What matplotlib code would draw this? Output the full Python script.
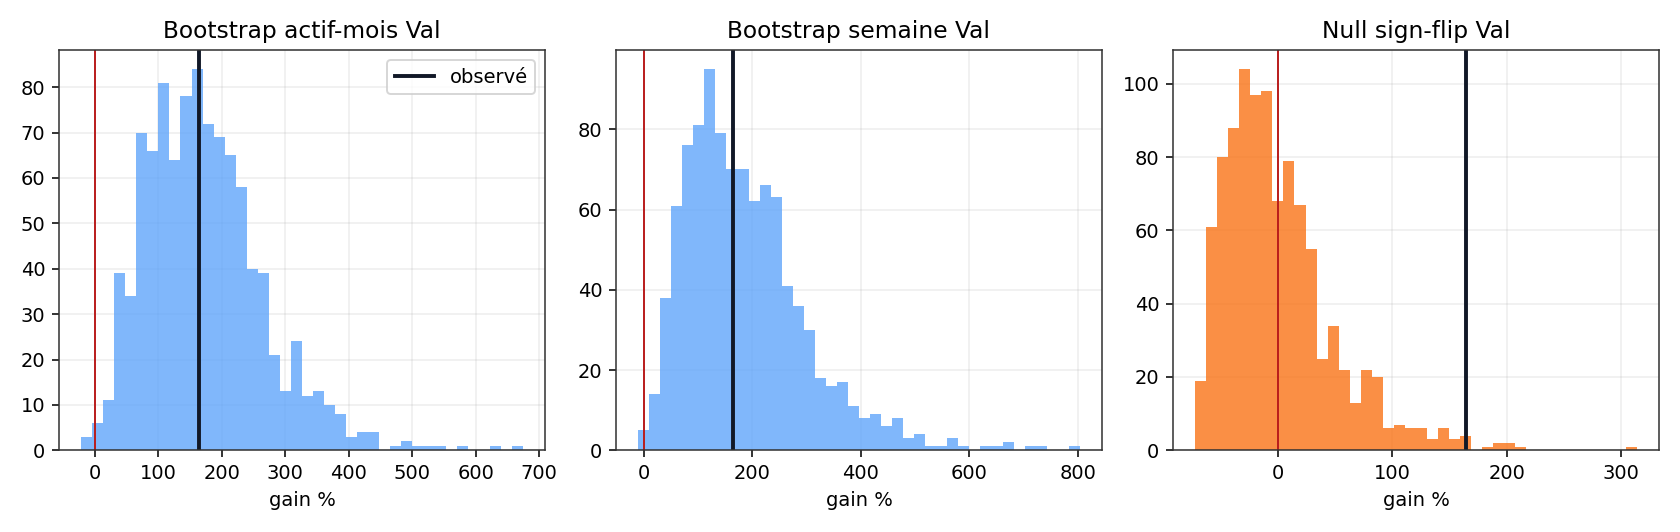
import numpy as np
import matplotlib
matplotlib.use("Agg")
import matplotlib.pyplot as plt

# ---- data ----
titles = ["Bootstrap actif-mois Val", "Bootstrap semaine Val", "Null sign-flip Val"]
xlabel = "gain %"
observed_gain = 164.4
null_line = 0.0

# histogram ranges (min, max of samples) and counts per bin (40 bins)
range_actif = (-22.0, 674.5)
counts_actif = [3, 6, 11, 39, 34, 70, 66, 81, 64, 78,
                84, 72, 69, 65, 58, 40, 39, 21, 13, 24,
                12, 13, 10, 8, 3, 4, 4, 0, 1, 2,
                1, 1, 1, 0, 1, 0, 0, 1, 0, 1]

range_semaine = (-10.5, 803.5)
counts_semaine = [5, 14, 38, 61, 76, 81, 95, 79, 70, 70,
                  62, 66, 63, 41, 36, 30, 18, 16, 17, 11,
                  8, 9, 6, 8, 3, 4, 1, 1, 3, 1,
                  0, 1, 1, 2, 0, 1, 1, 0, 0, 1]

range_null = (-72.6, 314.0)
counts_null = [19, 61, 80, 88, 104, 97, 98, 68, 79, 67,
               55, 25, 34, 22, 13, 22, 20, 6, 7, 6,
               6, 3, 6, 3, 4, 0, 1, 2, 2, 1,
               0, 0, 0, 0, 0, 0, 0, 0, 0, 1]

xticks_actif = [0, 100, 200, 300, 400, 500, 600, 700]
xticks_semaine = [0, 200, 400, 600, 800]
xticks_null = [0, 100, 200, 300]

blue = "#60a5fa"
orange = "#f97316"
navy = "#111827"
red = "#b91c1c"

panels = [
    (range_actif, counts_actif, blue, xticks_actif),
    (range_semaine, counts_semaine, blue, xticks_semaine),
    (range_null, counts_null, orange, xticks_null),
]

DPI = 140
fig, axes = plt.subplots(1, 3, figsize=(1680 / DPI, 532 / DPI), dpi=DPI)
fig.subplots_adjust(left=0.0351, right=0.9875, top=0.906, bottom=0.1536, wspace=0.146)

for i, (ax, (rng, counts, col, xt)) in enumerate(zip(axes, panels)):
    edges = np.linspace(rng[0], rng[1], len(counts) + 1)
    centers = 0.5 * (edges[:-1] + edges[1:])
    ax.hist(centers, bins=edges, weights=counts, color=col, alpha=0.8)
    ax.axvline(observed_gain, color=navy, lw=2, label="observé")
    ax.axvline(null_line, color=red, lw=1)
    ax.set_title(titles[i], fontsize=12)
    ax.set_xlabel(xlabel)
    ax.set_xticks(xt)
    ax.grid(True, alpha=0.22)
    ax.set_axisbelow(True)
    for s in ax.spines.values():
        s.set_color("#333333")
    if i == 0:
        ax.legend(loc="upper right")

fig.savefig("out.png", dpi=DPI)
